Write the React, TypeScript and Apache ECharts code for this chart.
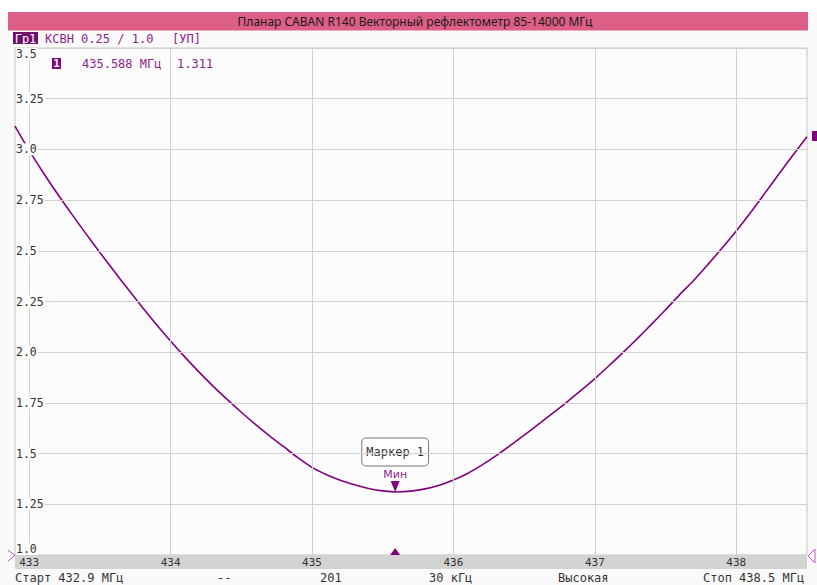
import React, { useEffect, useRef } from "react";
import * as echarts from "echarts";

const titleText = "Планар CABAN R140 Векторный рефлектометр 85-14000 МГц";
const headerTrace = "Гр1";
const headerFormat = "КСВН 0.25 / 1.0";
const headerMode = "[УП]";

const freqStart = 432.9;
const freqStop = 438.5;
const freqTickLabels = [433, 434, 435, 436, 437, 438];

const vswrMin = 1.0;
const vswrMax = 3.5;
const vswrStep = 0.25;

const freqs = [
  432.9, 433.0, 433.1, 433.2, 433.3, 433.4, 433.5, 433.6, 433.7, 433.8, 433.9,
  434.0, 434.1, 434.2, 434.3, 434.4, 434.5, 434.6, 434.7, 434.8, 434.9,
  435.0, 435.1, 435.2, 435.3, 435.4, 435.5, 435.6, 435.7, 435.8, 435.9,
  436.0, 436.1, 436.2, 436.3, 436.4, 436.5, 436.6, 436.7, 436.8, 436.9,
  437.0, 437.1, 437.2, 437.3, 437.4, 437.5, 437.6, 437.7, 437.8, 437.9,
  438.0, 438.1, 438.2, 438.3, 438.4, 438.5,
];

const vswr = [
  3.115, 2.995, 2.885, 2.781, 2.682, 2.586, 2.492, 2.4, 2.31, 2.222, 2.137,
  2.055, 1.977, 1.903, 1.833, 1.767, 1.704, 1.644, 1.587, 1.534, 1.48,
  1.432, 1.397, 1.368, 1.346, 1.328, 1.316, 1.311, 1.315, 1.326, 1.344,
  1.37, 1.402, 1.443, 1.489, 1.539, 1.591, 1.644, 1.698, 1.753, 1.81,
  1.87, 1.933, 1.999, 2.067, 2.137, 2.209, 2.284, 2.355, 2.433, 2.514,
  2.598, 2.688, 2.782, 2.877, 2.971, 3.062,
];

const markerFreq = 435.588;
const markerValue = 1.311;
const markerName = "Маркер 1";
const markerKind = "Мин";

const statusLabels = ["Старт 432.9 МГц", "--", "201", "30 кГц", "Высокая", "Стоп 438.5 МГц"];
const statusX = [15, 217, 320, 429, 558, 703];

const PURPLE = "#800080";
const TEXT_PURPLE = "#8e248e";
const MONO = "'DejaVu Sans Mono', monospace";

export default function App() {
  const ref = useRef<HTMLDivElement>(null);

  useEffect(() => {
    if (!ref.current) return;
    const chart = echarts.init(ref.current, undefined, { renderer: "svg" });
    const data = freqs.map((f, i) => [f, vswr[i]]);

    const graphics: any[] = [
      { type: "rect", shape: { x: 0, y: 0, width: 817, height: 12 }, style: { fill: "#ffffff" }, silent: true },
      { type: "rect", shape: { x: 8, y: 12, width: 800, height: 18.5 }, style: { fill: "#dd5f86" }, silent: true },
      {
        type: "text",
        x: 415,
        y: 21.5,
        style: {
          text: titleText,
          fill: "#1a1a1a",
          font: "12px 'Noto Sans', sans-serif",
          textAlign: "center",
          textVerticalAlign: "middle",
        },
      },
      { type: "rect", shape: { x: 13, y: 32, width: 25, height: 12 }, style: { fill: "#6e0f6e" } },
      {
        type: "text",
        x: 25.5,
        y: 38.5,
        style: { text: headerTrace, fill: "#ffffff", font: `12px ${MONO}`, textAlign: "center", textVerticalAlign: "middle" },
      },
      {
        type: "text",
        x: 45,
        y: 38.5,
        style: { text: headerFormat, fill: TEXT_PURPLE, font: `12px ${MONO}`, textVerticalAlign: "middle" },
      },
      {
        type: "text",
        x: 172,
        y: 38.5,
        style: { text: headerMode, fill: TEXT_PURPLE, font: `12px ${MONO}`, textVerticalAlign: "middle" },
      },
      { type: "rect", shape: { x: 52, y: 58, width: 9, height: 11 }, style: { fill: PURPLE } },
      {
        type: "text",
        x: 56.5,
        y: 63.5,
        style: { text: "1", fill: "#ffffff", font: `bold 11px ${MONO}`, textAlign: "center", textVerticalAlign: "middle" },
      },
      {
        type: "text",
        x: 82,
        y: 63.5,
        style: { text: `${markerFreq.toFixed(3)} МГц`, fill: TEXT_PURPLE, font: `12px ${MONO}`, textVerticalAlign: "middle" },
      },
      {
        type: "text",
        x: 177,
        y: 63.5,
        style: { text: markerValue.toFixed(3), fill: TEXT_PURPLE, font: `12px ${MONO}`, textVerticalAlign: "middle" },
      },
      {
        type: "rect",
        z: 1,
        shape: { x: 15, y: 556, width: 792, height: 13 },
        style: { fill: "#d3d3d3" },
        silent: true,
      },
      {
        type: "polyline",
        shape: { points: [[8, 550], [15, 555.5], [8, 561]] },
        style: { stroke: "#b050b0", lineWidth: 1, fill: null },
      },
      {
        type: "polygon",
        shape: { points: [[815, 549], [808, 556], [815, 563]] },
        style: { stroke: "#c060c0", lineWidth: 1, fill: "none" },
      },
      { type: "rect", shape: { x: 812, y: 131, width: 6, height: 10 }, style: { fill: PURPLE } },
      ...statusLabels.map((t, i) => ({
        type: "text",
        x: statusX[i],
        y: 578,
        style: { text: t, fill: "#333333", font: `12px ${MONO}`, textVerticalAlign: "middle" },
      })),
    ];

    chart.setOption({
      animation: false,
      backgroundColor: "transparent",
      grid: {
        left: 15,
        right: 10,
        top: 48,
        bottom: 30,
        show: true,
        backgroundColor: "#fcfcfc",
        borderColor: "#c6c6c6",
        borderWidth: 1,
      },
      xAxis: {
        type: "value",
        min: freqStart,
        max: freqStop,
        z: 10,
        axisLine: { show: false },
        axisTick: { show: false },
        splitLine: { show: false },
        axisLabel: {
          customValues: freqTickLabels,
          formatter: (v: number) => String(Math.round(v)),
          margin: 2,
          color: "#333333",
          fontSize: 11,
          fontFamily: MONO,
        },
      },
      yAxis: {
        type: "value",
        min: vswrMin,
        max: vswrMax,
        interval: vswrStep,
        z: 10,
        axisLine: { show: false },
        axisTick: { show: false },
        splitLine: { show: true, lineStyle: { color: "#d2d2d2", width: 1 } },
        axisLabel: {
          inside: true,
          margin: 1,
          align: "left",
          color: "#333333",
          fontSize: 11.5,
          fontFamily: MONO,
          backgroundColor: "#fcfcfc",
          padding: [0, 1, 0, 0],
          verticalAlignMinLabel: "bottom",
          verticalAlignMaxLabel: "top",
          formatter: (v: number) => {
            const s = v.toFixed(2);
            return s.endsWith("0") ? v.toFixed(1) : s;
          },
        },
      },
      graphic: graphics,
      series: [
        {
          type: "line",
          z: 1,
          data,
          showSymbol: false,
          silent: true,
          lineStyle: { opacity: 0, width: 0 },
          markLine: {
            silent: true,
            symbol: ["none", "none"],
            label: { show: false },
            lineStyle: { color: "#d2d2d2", type: "solid", width: 1 },
            data: freqTickLabels.map((f) => ({ xAxis: f })),
          },
        },
        {
          type: "line",
          z: 3,
          data,
          smooth: 0.3,
          showSymbol: false,
          silent: true,
          lineStyle: { color: PURPLE, width: 1.6 },
          markPoint: {
            silent: true,
            data: [
              {
                coord: [markerFreq, markerValue],
                symbol: "triangle",
                symbolRotate: 180,
                symbolSize: [9, 11],
                symbolOffset: [0, -5.5],
                itemStyle: { color: PURPLE },
                label: {
                  show: true,
                  position: "top",
                  distance: 1,
                  formatter: markerKind,
                  color: TEXT_PURPLE,
                  fontSize: 11,
                  fontFamily: "'DejaVu Sans', sans-serif",
                },
              },
              {
                coord: [markerFreq, markerValue],
                symbol: "rect",
                symbolSize: 0,
                label: {
                  show: true,
                  position: "inside",
                  offset: [0, -40],
                  formatter: markerName,
                  color: "#333333",
                  fontSize: 12,
                  fontFamily: MONO,
                  backgroundColor: "#ffffff",
                  borderColor: "#777777",
                  borderWidth: 1,
                  borderRadius: 4,
                  padding: [8, 4, 7, 4],
                },
              },
              {
                coord: [markerFreq, vswrMin],
                symbol: "triangle",
                symbolSize: [10, 7],
                symbolOffset: [0, -3.5],
                itemStyle: { color: PURPLE },
                label: { show: false },
              },
            ],
          },
        },
      ],
    });

    return () => chart.dispose();
  }, []);

  return (
    <div
      ref={ref}
      style={{ position: "fixed", left: 0, top: 0, width: 817, height: 585, background: "#fafafa" }}
    />
  );
}
